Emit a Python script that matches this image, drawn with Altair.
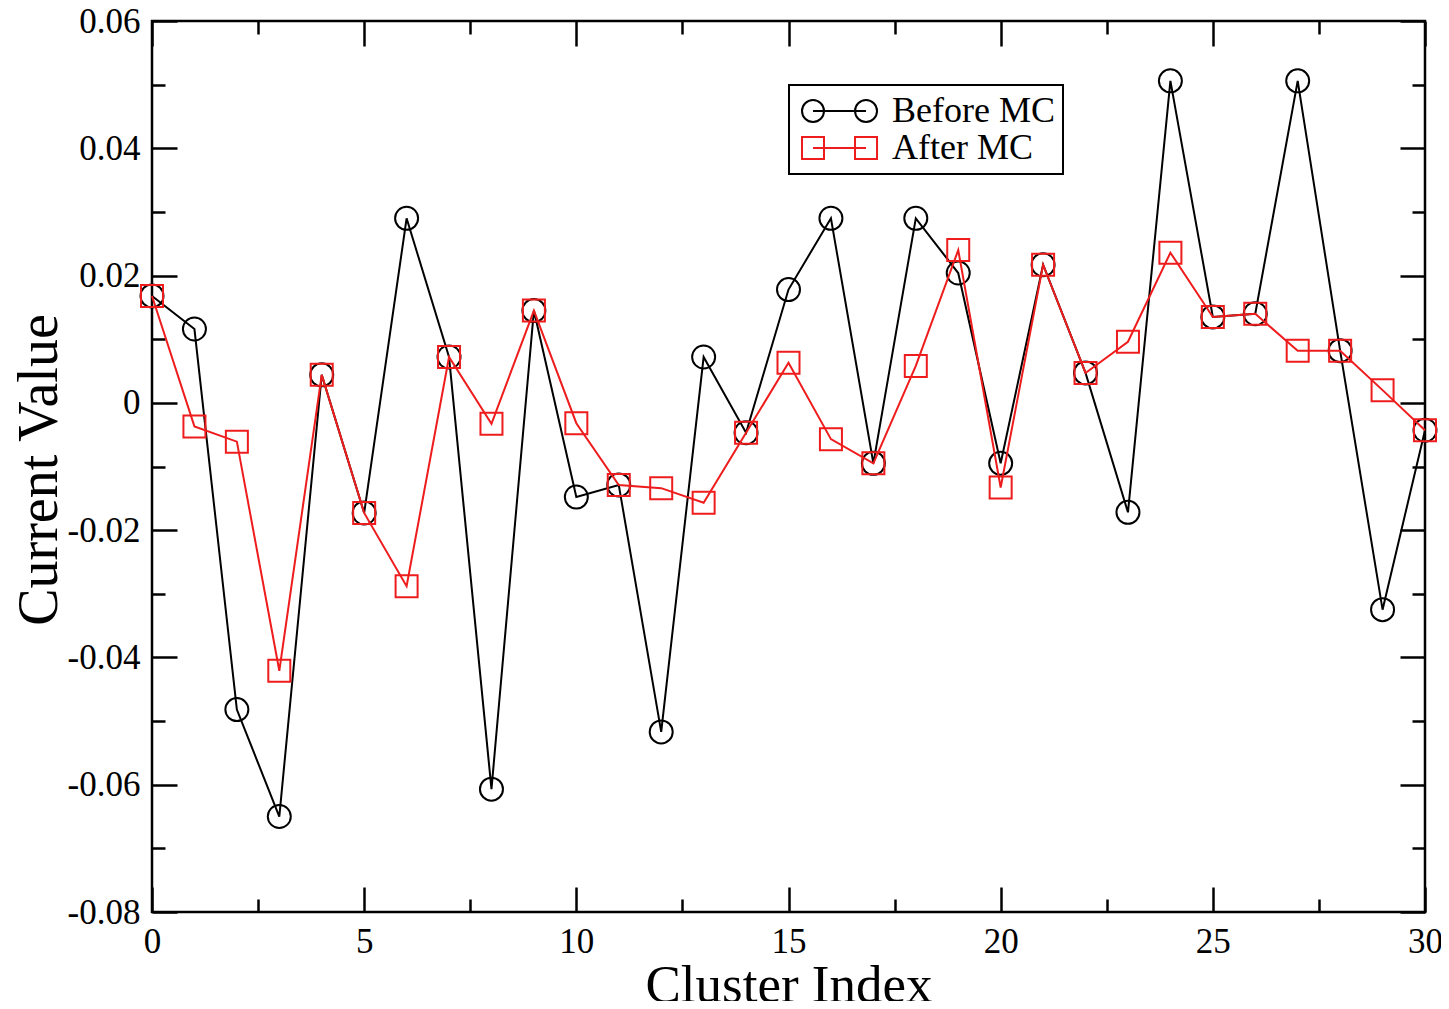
import altair as alt
import pandas as pd

# ---------------- data ----------------
cluster_index = list(range(31))
before_mc = [0.0168, 0.0116, -0.0482, -0.0650, 0.0044, -0.0173, 0.0290, 0.0072, -0.0607, 0.0145,
             -0.0148, -0.0129, -0.0517, 0.0072, -0.0047, 0.0178, 0.0290, -0.0095, 0.0290, 0.0204,
             -0.0095, 0.0217, 0.0047, -0.0172, 0.0506, 0.0135, 0.0140, 0.0506, 0.0082, -0.0325, -0.0043]
after_mc = [0.0168, -0.0037, -0.0061, -0.0421, 0.0044, -0.0173, -0.0288, 0.0072, -0.0033, 0.0145,
            -0.0032, -0.0129, -0.0134, -0.0157, -0.0047, 0.0063, -0.0057, -0.0095, 0.0058, 0.0240,
            -0.0133, 0.0217, 0.0047, 0.0096, 0.0236, 0.0135, 0.0140, 0.0082, 0.0082, 0.0020, -0.0043]
series_names = ["Before MC", "After MC"]

x_major = [0, 5, 10, 15, 20, 25, 30]
x_minor = [2.5, 7.5, 12.5, 17.5, 22.5, 27.5]
y_major = [-0.08, -0.06, -0.04, -0.02, 0.0, 0.02, 0.04, 0.06]
y_minor = [-0.07, -0.05, -0.03, -0.01, 0.01, 0.03, 0.05]

# ---------------- styling ----------------
W, H = 1273, 891
FONT = "Liberation Serif"
BLACK = "#000000"
RED = "#ee1c1c"

# legend symbols: marker - line - marker
PATH_CIRCLE = ("M 1 0 A 1 1 0 1 1 -1 0 A 1 1 0 1 1 1 0 Z "
               "M 5.82 0 A 1 1 0 1 1 3.82 0 A 1 1 0 1 1 5.82 0 Z "
               "M 0 0 L 4.82 0")
PATH_SQUARE = ("M -1 -1 H 1 V 1 H -1 Z "
               "M 3.82 -1 H 5.82 V 1 H 3.82 Z "
               "M 0 0 L 4.82 0")

df_before = pd.DataFrame({"x": cluster_index, "y": before_mc, "series": series_names[0]})
df_after = pd.DataFrame({"x": cluster_index, "y": after_mc, "series": series_names[1]})
df_all = pd.concat([df_before, df_after], ignore_index=True)

xs = alt.Scale(domain=[0, 30], nice=False, zero=False)
ys = alt.Scale(domain=[-0.08, 0.06], nice=False, zero=False)


def tick_axis(orient, values, size, offset):
    return alt.Axis(orient=orient, values=values, tickSize=size, tickWidth=2.5,
                    tickColor=BLACK, labels=False, domain=False, grid=False,
                    title=None, offset=offset)


x_label_axis = alt.Axis(
    orient="bottom", values=x_major, ticks=False, tickSize=0, domain=False, grid=False,
    labelFont=FONT, labelFontSize=35, labelColor=BLACK, labelPadding=12,
    labelFlush=False, labelOverlap=False, format="d",
    title="Cluster Index", titleFont=FONT, titleFontSize=53, titleFontWeight="normal",
    titleColor=BLACK, titleBaseline="alphabetic", titleX=W / 2, titleY=89,
)
y_label_axis = alt.Axis(
    orient="left", values=y_major, ticks=False, tickSize=0, domain=False, grid=False,
    labelFont=FONT, labelFontSize=35, labelColor=BLACK, labelPadding=12,
    labelFlush=False, labelOverlap=False,
    labelExpr="datum.value == 0 ? '0' : (datum.value < 0 ? '-' : '') + format(abs(datum.value), '.2f')",
    title="Current Value", titleFont=FONT, titleFontSize=56, titleFontWeight="normal",
    titleColor=BLACK, titleBaseline="alphabetic", titleAngle=-90, titleX=-96, titleY=H / 2 + 3,
)

line_before = alt.Chart(df_before).mark_line(color=BLACK, strokeWidth=2).encode(
    x=alt.X("x:Q", scale=xs, axis=x_label_axis),
    y=alt.Y("y:Q", scale=ys, axis=y_label_axis),
)
pts_before = alt.Chart(df_before).mark_point(
    shape="circle", filled=False, color=BLACK, size=529, strokeWidth=2, opacity=1
).encode(
    x=alt.X("x:Q", scale=xs, axis=tick_axis("top", x_major, 25, -H)),
    y=alt.Y("y:Q", scale=ys, axis=tick_axis("right", y_major, 25, -W)),
)
line_after = alt.Chart(df_after).mark_line(color=RED, strokeWidth=2).encode(
    x=alt.X("x:Q", scale=xs, axis=tick_axis("top", x_minor, 13, -H)),
    y=alt.Y("y:Q", scale=ys, axis=tick_axis("right", y_minor, 13, -W)),
)
pts_after = alt.Chart(df_after).mark_point(
    shape="square", filled=False, color=RED, size=484, strokeWidth=2, opacity=1
).encode(
    x=alt.X("x:Q", scale=xs, axis=tick_axis("bottom", x_major, 25, -H)),
    y=alt.Y("y:Q", scale=ys, axis=tick_axis("left", y_major, 25, -W)),
)

legend = alt.Legend(
    orient="none", legendX=637, legendY=64, title=None,
    labelFont=FONT, labelFontSize=36, labelColor=BLACK, labelLimit=400,
    symbolSize=484, symbolStrokeWidth=2, symbolOffset=-2, labelOffset=61,
    padding=8, rowPadding=1, strokeColor=BLACK, fillColor="white",
)
legend_layer = alt.Chart(df_all).transform_filter("datum.x < 0").mark_point(
    filled=False, strokeWidth=2, opacity=1
).encode(
    x=alt.X("x:Q", scale=xs, axis=tick_axis("bottom", x_minor, 13, -H)),
    y=alt.Y("y:Q", scale=ys, axis=tick_axis("left", y_minor, 13, -W)),
    color=alt.Color("series:N", scale=alt.Scale(domain=series_names, range=[BLACK, RED]), legend=legend),
    shape=alt.Shape("series:N", scale=alt.Scale(domain=series_names, range=[PATH_CIRCLE, PATH_SQUARE]), legend=legend),
)

chart = (
    alt.layer(line_before, pts_before, line_after, pts_after, legend_layer)
    .resolve_axis(x="independent", y="independent")
    .properties(
        width=W, height=H,
        padding={"left": 144, "top": 13, "right": 16, "bottom": 89},
        autosize=alt.AutoSizeParams(type="none"),
        background="white",
    )
    .configure_view(stroke=BLACK, strokeWidth=2.5)
    .configure_legend(strokeWidth=2)
)

chart.save("out.html", embed_options={"renderer": "svg", "actions": False})
